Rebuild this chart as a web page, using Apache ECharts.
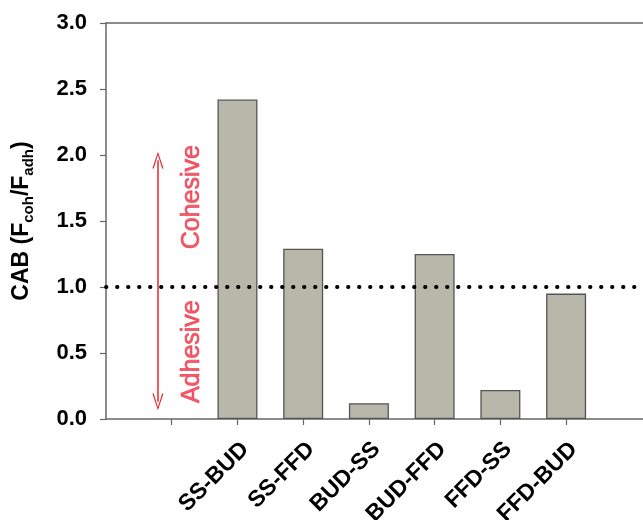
<!DOCTYPE html>
<html>
<head>
<meta charset="utf-8">
<script src="https://cdn.jsdelivr.net/npm/echarts@6/dist/echarts.min.js"></script>
<style>html,body{margin:0;padding:0;background:#fff}#c{width:643px;height:520px}</style>
</head>
<body>
<div id="c"></div>
<script>
var categories = ['SS-BUD', 'SS-FFD', 'BUD-SS', 'BUD-FFD', 'FFD-SS', 'FFD-BUD'];
var values = [2.42, 1.29, 0.12, 1.25, 0.22, 0.95];
var categorySlots = [2, 3, 4, 5, 6, 7];
var tickSlots = [1, 2, 3, 4, 5, 6, 7];
var yTicks = [0, 0.5, 1.0, 1.5, 2.0, 2.5, 3.0];
var referenceLine = 1.0;
var arrowRange = [0.13, 1.96];
var arrowSlot = 0.79;
var annotations = [['Cohesive', 1.31, 1.68], ['Adhesive', 1.31, 0.51]];

var FONT = '"Liberation Sans", Arial, sans-serif';
var chart = echarts.init(document.getElementById('c'), null, {renderer: 'canvas'});

var barData = values.map(function (v, i) { return [categorySlots[i], v]; });
var chevron = 'path://M0,0 L-5.5,16 L-4.3,16.4 L0,3.2 L4.3,16.4 L5.5,16 Z';

var option = {
  animation: false,
  backgroundColor: '#fff',
  grid: {left: 106, right: 0, top: 23, bottom: 101, containLabel: false, outerBoundsMode: 'none'},
  xAxis: [{
    type: 'value', min: 0, max: 8.17, position: 'bottom',
    splitLine: {show: false},
    axisLine: {show: true, onZero: false, lineStyle: {color: '#666', width: 1.5}},
    axisTick: {show: true, inside: false, length: 6, customValues: tickSlots, lineStyle: {color: '#666', width: 1.2}},
    axisLabel: {
      show: true, customValues: categorySlots, rotate: 45, margin: 19,
      formatter: function (v) { var i = categorySlots.indexOf(Math.round(v)); return i >= 0 ? '{t|' + categories[i] + '}' : ''; },
      rich: {
        t: {fontFamily: FONT, fontSize: 23, fontWeight: 'bold', color: '#000', padding: [22, 0, 0, 0]}
      }
    }
  }, {
    type: 'value', min: 0, max: 8.17, position: 'top',
    splitLine: {show: false},
    axisLine: {show: true, onZero: false, lineStyle: {color: '#666', width: 1.5}},
    axisTick: {show: false}, axisLabel: {show: false}
  }],
  yAxis: {
    type: 'value', min: 0, max: 3, interval: 0.5,
    splitLine: {show: false},
    axisLine: {show: true, onZero: false, lineStyle: {color: '#666', width: 1.5}},
    axisTick: {show: true, inside: false, length: 6, lineStyle: {color: '#666', width: 1.2}},
    axisLabel: {
      margin: 19, fontFamily: FONT, fontSize: 22, fontWeight: 'bold', color: '#000',
      formatter: function (v) { return v.toFixed(1); }
    },
    name: '{m|CAB (F}{s|coh}{m|/F}{s|adh}{m|)}',
    nameLocation: 'middle', nameRotate: 90, nameGap: 70,
    nameTextStyle: {
      rich: {
        m: {fontFamily: FONT, fontSize: 23, fontWeight: 'bold', color: '#000', lineHeight: 28, verticalAlign: 'middle'},
        s: {fontFamily: FONT, fontSize: 15, fontWeight: 'bold', color: '#000', lineHeight: 14, verticalAlign: 'bottom'}
      }
    }
  },
  series: [{
    type: 'bar', xAxisIndex: 0, data: barData, barWidth: 40,
    itemStyle: {color: '#b8b8aa', borderColor: '#555', borderWidth: 1.3},
    markLine: {
      silent: true, symbol: 'none',
      label: {show: false},
      lineStyle: {color: '#000', width: 3.8, type: [0.5, 10.5], cap: 'round'},
      data: [{yAxis: referenceLine}]
    }
  }, {
    type: 'line', xAxisIndex: 0, data: [],
    markLine: {
      silent: true, symbol: [chevron, chevron], symbolSize: [11, 17], symbolOffset: 0,
      label: {show: false},
      lineStyle: {color: '#e8262e', width: 1.5, type: 'solid'},
      data: [[{coord: [arrowSlot, arrowRange[0]]}, {coord: [arrowSlot, arrowRange[1]]}]]
    }
  }, {
    type: 'scatter', xAxisIndex: 0, symbolSize: 0,
    data: annotations.map(function (a) { return {value: [a[1], a[2]], name: a[0]}; }),
    label: {
      show: true, position: 'inside', rotate: 90,
      fontFamily: FONT, fontSize: 25, color: '#ee3346',
      textBorderColor: '#ee3346', textBorderWidth: 0.7,
      formatter: function (p) { return p.name; }
    }
  }]
};
chart.setOption(option);
</script>
</body>
</html>
